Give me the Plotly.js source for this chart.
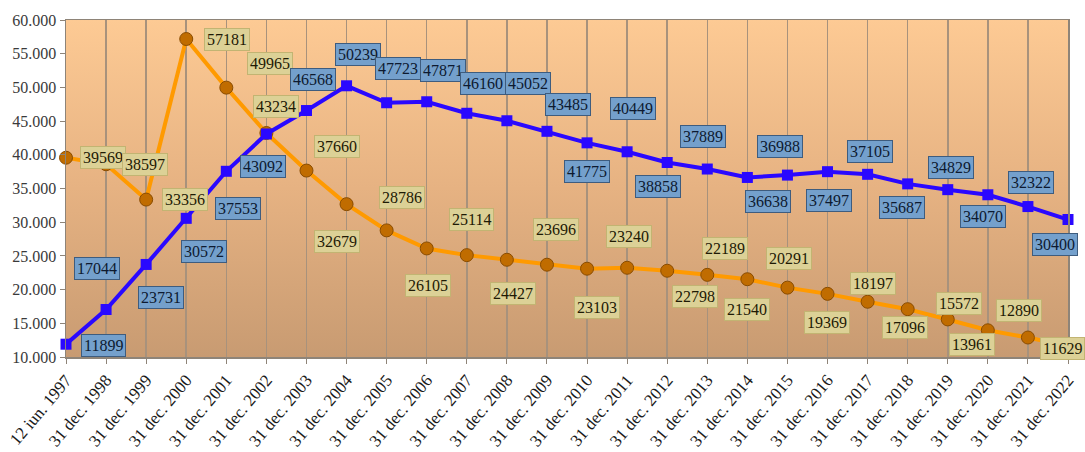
<!DOCTYPE html>
<html>
<head>
<meta charset="utf-8">
<script src="https://cdn.plot.ly/plotly-3.0.1.min.js"></script>
<style>
  html, body { margin: 0; padding: 0; background: #ffffff; }
  #chart { width: 1085px; height: 452px; }
</style>
</head>
<body>
<div id="chart"></div>
<script>
const categories = [
  '12 iun. 1997', '31 dec. 1998', '31 dec. 1999', '31 dec. 2000', '31 dec. 2001',
  '31 dec. 2002', '31 dec. 2003', '31 dec. 2004', '31 dec. 2005', '31 dec. 2006',
  '31 dec. 2007', '31 dec. 2008', '31 dec. 2009', '31 dec. 2010', '31 dec. 2011',
  '31 dec. 2012', '31 dec. 2013', '31 dec. 2014', '31 dec. 2015', '31 dec. 2016',
  '31 dec. 2017', '31 dec. 2018', '31 dec. 2019', '31 dec. 2020', '31 dec. 2021',
  '31 dec. 2022'
];

const orangeValues = [
  39569, 38597, 33356, 57181, 49965, 43234, 37660, 32679, 28786, 26105,
  25114, 24427, 23696, 23103, 23240, 22798, 22189, 21540, 20291, 19369,
  18197, 17096, 15572, 13961, 12890, 11629
];

const blueValues = [
  11899, 17044, 23731, 30572, 37553, 43092, 46568, 50239, 47723, 47871,
  46160, 45052, 43485, 41775, 40449, 38858, 37889, 36638, 36988, 37497,
  37105, 35687, 34829, 34070, 32322, 30400
];

// label placement (screen pixel offsets from each point: [right, down])
const orangeLabelShift = [
  [37,0],[39,0],[39,0],[41,0],[44,-24],[10,-27],[31,-24],[-10,37],[15,-33],[1,37],
  [5,-36],[6,34],[9,-35],[10,39],[2,-31],[28,26],[18,-26],[0,30],[2,-29],[-1,29],
  [5,-18],[-3,18],[11,-16],[-16,14],[-9,-27],[-6,2]
];
const blueLabelShift = [
  [37,1],[-9,-41],[15,33],[18,33],[12,37],[-3,33],[7,-31],[11,-31],[11,-34],[16,-31],
  [16,-30],[21,-37],[21,-27],[0,29],[6,-43],[-9,24],[-4,-33],[21,24],[-7,-29],[1,29],
  [2,-23],[-6,24],[3,-22],[-5,22],[3,-24],[-13,25]
];

const serif = 'Liberation Serif, Times New Roman, DejaVu Serif, serif';

const orangeTrace = {
  type: 'scatter', mode: 'lines+markers',
  x: categories, y: orangeValues,
  line: { color: '#ff9a00', width: 4 },
  marker: { symbol: 'circle', size: 13, color: '#c06c00', line: { color: '#8a4c00', width: 1 } },
  hoverinfo: 'x+y', cliponaxis: false
};
const blueTrace = {
  type: 'scatter', mode: 'lines+markers',
  x: categories, y: blueValues,
  line: { color: '#2a08ff', width: 4 },
  marker: { symbol: 'square', size: 11, color: '#2a08ff' },
  hoverinfo: 'x+y', cliponaxis: false
};

const annotations = [];
categories.forEach((c, i) => {
  annotations.push({
    x: c, y: orangeValues[i], xref: 'x', yref: 'y',
    text: String(orangeValues[i]), showarrow: false,
    xshift: orangeLabelShift[i][0], yshift: -orangeLabelShift[i][1],
    font: { family: serif, size: 16, color: '#1e1a05' },
    bgcolor: '#dcd196', bordercolor: '#c2b472', borderwidth: 1, borderpad: 2
  });
});
categories.forEach((c, i) => {
  annotations.push({
    x: c, y: blueValues[i], xref: 'x', yref: 'y',
    text: String(blueValues[i]), showarrow: false,
    xshift: blueLabelShift[i][0], yshift: -blueLabelShift[i][1],
    font: { family: serif, size: 16, color: '#0d1a30' },
    bgcolor: '#74a0cc', bordercolor: '#3e5c7e', borderwidth: 1, borderpad: 2
  });
});

const bgSvg = '<svg xmlns="http://www.w3.org/2000/svg" width="100" height="100" preserveAspectRatio="none">' +
  '<defs><linearGradient id="g" x1="0" y1="0" x2="0" y2="1">' +
  '<stop offset="0" stop-color="#fdca94"/><stop offset="0.5" stop-color="#e6b282"/>' +
  '<stop offset="1" stop-color="#c89b72"/></linearGradient></defs>' +
  '<rect width="100" height="100" fill="url(#g)"/></svg>';

const layout = {
  width: 1085, height: 452,
  margin: { l: 66, r: 17, t: 20, b: 95, pad: 0 },
  paper_bgcolor: '#ffffff',
  plot_bgcolor: 'rgba(0,0,0,0)',
  showlegend: false,
  separators: ',.',
  font: { family: serif, color: '#333333' },
  images: [{
    source: 'data:image/svg+xml;charset=utf-8,' + encodeURIComponent(bgSvg),
    xref: 'paper', yref: 'paper', x: 0, y: 1, sizex: 1, sizey: 1,
    xanchor: 'left', yanchor: 'top', sizing: 'stretch', layer: 'below'
  }],
  xaxis: {
    type: 'category',
    range: [0, categories.length - 1],
    showgrid: true, gridcolor: '#a8927c', gridwidth: 1.5,
    showline: true, linecolor: '#8e8478', linewidth: 1.5, mirror: true,
    ticks: 'outside', ticklen: 5, tickcolor: '#8e8478',
    tickangle: -50,
    tickfont: { family: serif, size: 17, color: '#1a1a1a' },
    zeroline: false, fixedrange: true
  },
  yaxis: {
    range: [10000, 60000], dtick: 5000, tick0: 10000,
    tickformat: ',.0f',
    showgrid: false,
    showline: true, linecolor: '#8e8478', linewidth: 1.5, mirror: true,
    ticks: 'outside', ticklen: 5, tickcolor: '#8e8478',
    tickfont: { family: serif, size: 16, color: '#3a3a3a' },
    zeroline: false, fixedrange: true
  },
  annotations: annotations
};

Plotly.newPlot('chart', [orangeTrace, blueTrace], layout, { displayModeBar: false, staticPlot: true });
</script>
</body>
</html>
